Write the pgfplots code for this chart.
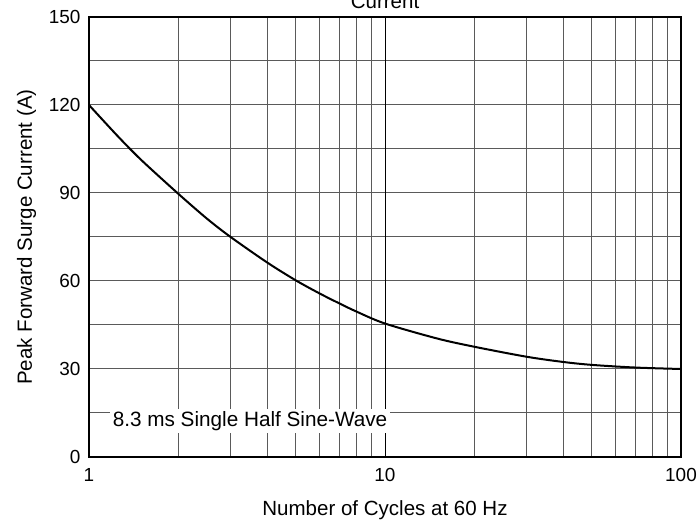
\documentclass[border=0pt]{standalone}
\usepackage{fontspec}
\setmainfont{Liberation Sans}
\usepackage{pgfplots}
\pgfplotsset{compat=1.18}
\definecolor{gridgray}{RGB}{90,90,90}

\begin{document}
\begin{tikzpicture}
\begin{axis}[
    at={(0,0)}, anchor=south west,
    scale only axis,
    width=592bp, height=440bp,
    xmode=log,
    xmin=1, xmax=100,
    ymin=0, ymax=150,
    xtick={1,10,100},
    xticklabels={1,10,100},
    minor xtick={2,3,4,5,6,7,8,9,20,30,40,50,60,70,80,90},
    ytick={0,30,60,90,120,150},
    minor ytick={15,45,75,105,135},
    extra x ticks={10},
    extra x tick labels={},
    extra x tick style={grid=major, major grid style={black, line width=1bp}},
    grid=both,
    major grid style={gridgray, line width=1bp},
    minor grid style={gridgray, line width=1bp},
    major tick length=0pt, minor tick length=0pt,
    axis line style={black, line width=1.2bp},
    log ticks with fixed point,
    /pgf/number format/assume math mode=true,
    tick label style={font=\fontsize{19}{23}\selectfont},
    xticklabel style={yshift=-8bp},
    yticklabel style={xshift=-5bp},
    label style={font=\fontsize{20.6}{24}\selectfont},
    xlabel={Number of Cycles at 60 Hz},
    ylabel={Peak Forward Surge Current (A)},
    xlabel style={yshift=-12bp},
    ylabel style={yshift=6bp},
    clip=false,
]
\addplot[black, line width=2bp, smooth] coordinates {
    (1,120) (1.25,109.4) (1.5,101.3) (2,89.8) (2.5,81.3) (3,75.1)
    (4,66.3) (5,60.2) (6,55.8) (7,52.4) (8,49.6) (10,45.5)
    (15,40.4) (20,37.6) (30,34.2) (40,32.4) (50,31.4) (70,30.5) (100,30)
};
\node[fill=white, inner xsep=3bp, inner ysep=2bp, font=\fontsize{20.8}{24}\selectfont]
    at (axis cs:3.5,12.3) {8.3 ms Single Half Sine-Wave};
\end{axis}
\node[anchor=base, font=\fontsize{20.6}{24}\selectfont] at (296bp,448bp) {Current};
\pgfresetboundingbox
\path[use as bounding box] (-89bp,-63bp) rectangle (608bp,457bp);
\end{tikzpicture}
\end{document}
